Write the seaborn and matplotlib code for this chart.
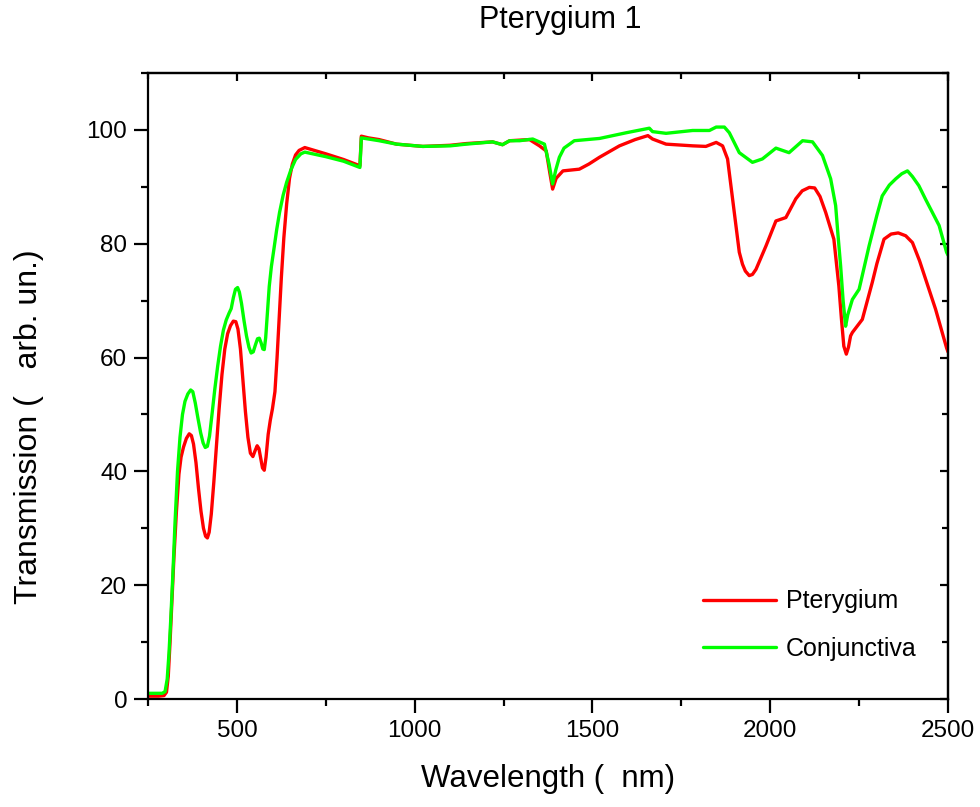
import numpy as np
import pandas as pd
import matplotlib
matplotlib.use("Agg")
import matplotlib.pyplot as plt
from matplotlib.ticker import MultipleLocator
import seaborn as sns

# ---------------- data ----------------
pter_x = [250, 280, 295, 302, 307, 312, 317, 323, 330, 337, 343, 350, 358, 366, 372,
          378, 385, 392, 399, 406, 412, 417, 422, 428, 435, 442, 450, 458, 466, 474,
          482, 490, 497, 503, 510, 517, 524, 531, 538, 545, 551, 557, 562, 567, 572,
          577, 582, 588, 594, 600, 607, 613, 619, 625, 632, 640, 648, 656, 665, 675,
          691, 750, 800, 846, 850, 870, 900, 949, 1023, 1100, 1145, 1219, 1247, 1267, 1323,
          1351, 1370, 1380, 1388, 1398, 1417, 1463, 1490, 1520, 1576, 1620, 1656, 1669, 1707,
          1782, 1819, 1848, 1866, 1880, 1894, 1913, 1922, 1930, 1941, 1950, 1960, 1988, 2016,
          2044, 2072, 2090, 2110, 2125, 2140, 2156, 2179, 2193, 2200, 2207, 2214, 2220, 2226,
          2231, 2259, 2287, 2300, 2320, 2340, 2360, 2381, 2400, 2420, 2437, 2465, 2496, 2500]
pter_y = [0.5, 0.5, 0.6, 1.2, 4, 10, 17, 25, 33, 39.5, 42.5, 44.3, 45.8, 46.6, 46.3,
          44.8, 41.5, 37, 33, 30, 28.6, 28.3, 29.3, 32.5, 38, 44, 51, 57, 61.5, 64.2,
          65.6, 66.4, 66.3, 65, 61.5, 56, 50.5, 46, 43.2, 42.6, 43.6, 44.5, 44, 42.3, 40.6,
          40.2, 42.5, 46.5, 49, 51, 54, 60, 67, 74, 81, 87, 91.5, 94, 95.6, 96.4,
          96.9, 95.8, 94.8, 93.7, 98.9, 98.6, 98.3, 97.5, 97.1, 97.3, 97.6, 97.9, 97.4, 98.1, 98.3,
          97.2, 96.3, 92.5, 89.6, 91.5, 92.8, 93.1, 94.0, 95.2, 97.2, 98.3, 99.0, 98.4, 97.5,
          97.2, 97.1, 97.8, 97.2, 94.9, 87.9, 78.5, 76.4, 75.2, 74.4, 74.6, 75.5, 79.6, 84.0,
          84.6, 87.9, 89.3, 89.9, 89.8, 88.3, 85.5, 80.8, 72.6, 67.0, 62.0, 60.6, 61.8, 63.8,
          64.4, 66.7, 73.2, 76.5, 80.8, 81.7, 81.9, 81.4, 80.2, 77.0, 73.8, 68.5, 61.7, 61.0]

conj_x = [250, 290, 298, 304, 309, 314, 320, 326, 333, 340, 347, 354, 362, 370, 376,
          383, 390, 398, 405, 411, 417, 423, 430, 438, 446, 454, 462, 470, 478, 484,
          490, 496, 502, 507, 513, 520, 527, 534, 540, 546, 552, 558, 563, 568, 573,
          577, 581, 586, 591, 597, 604, 612, 620, 630, 640, 652, 665, 680, 691, 750,
          800, 846, 850, 870, 900, 949, 1023, 1100, 1145, 1219, 1247, 1267, 1295, 1332, 1365,
          1378, 1388, 1397, 1407, 1420, 1449, 1520, 1595, 1660, 1669, 1707, 1782, 1829, 1848,
          1871, 1885, 1913, 1950, 1978, 2016, 2053, 2091, 2119, 2147, 2170, 2184, 2190, 2198,
          2205, 2212, 2218, 2231, 2250, 2278, 2300, 2315, 2335, 2353, 2370, 2386, 2400, 2418,
          2437, 2456, 2475, 2496, 2500]
conj_y = [1.0, 1.0, 1.3, 3.5, 8, 14, 22, 31, 40, 46, 50, 52.3, 53.6, 54.3, 54,
          52, 49.5, 46.8, 45, 44.2, 44.4, 46.2, 50, 54.5, 58.5, 62, 64.8, 66.6, 67.8, 68.6,
          70.5, 72, 72.3, 71.5, 69.5, 66.5, 63.8, 61.8, 60.8, 61, 62.2, 63.3, 63.4, 62.6, 61.5,
          61.4, 63.5, 68, 72.5, 76, 79, 82.5, 85.5, 88.5, 90.8, 93, 94.8, 95.8, 96.1, 95.3,
          94.5, 93.4, 98.6, 98.4, 98.1, 97.5, 97.1, 97.2, 97.5, 97.9, 97.4, 98.1, 98.1, 98.4, 97.5,
          94.0, 90.5, 93.0, 95.2, 96.8, 98.1, 98.5, 99.5, 100.3, 99.7, 99.4, 99.9, 99.9, 100.5,
          100.5, 99.5, 96.0, 94.3, 94.9, 96.8, 96.0, 98.1, 97.9, 95.5, 91.4, 86.7, 82.0, 76.1,
          70.0, 65.5, 67.5, 70.2, 72.0, 79.6, 85.0, 88.4, 90.3, 91.4, 92.3, 92.8, 91.8, 90.2,
          87.8, 85.5, 83.2, 78.5, 78.0]

series_names = ["Pterygium", "Conjunctiva"]
series_colors = ["#ff0000", "#00ff00"]
x_ticks = [500, 1000, 1500, 2000, 2500]
y_ticks = [0, 20, 40, 60, 80, 100]

df = pd.concat([
    pd.DataFrame({"Wavelength": pter_x, "Transmission": pter_y, "Sample": series_names[0]}),
    pd.DataFrame({"Wavelength": conj_x, "Transmission": conj_y, "Sample": series_names[1]}),
], ignore_index=True)

# ---------------- style ----------------
sns.set_style("ticks")
plt.rcParams["font.family"] = ["Liberation Sans", "DejaVu Sans"]
for k in ["text.color", "axes.labelcolor", "xtick.color", "ytick.color", "axes.edgecolor"]:
    plt.rcParams[k] = "black"

fig = plt.figure(figsize=(9.8, 8.07), dpi=100)
ax = fig.add_axes([148 / 980, 108 / 807, 800 / 980, 626 / 807])

sns.lineplot(data=df, x="Wavelength", y="Transmission", hue="Sample",
             hue_order=series_names, palette=series_colors, estimator=None,
             linewidth=2.4, ax=ax)

ax.set_xlim(250, 2500)
ax.set_ylim(0, 110)
ax.set_xticks(x_ticks)
ax.set_yticks(y_ticks)
ax.xaxis.set_minor_locator(MultipleLocator(250))
ax.yaxis.set_minor_locator(MultipleLocator(10))

for s in ax.spines.values():
    s.set_visible(True)
    s.set_linewidth(1.6)
    s.set_color("black")

ax.tick_params(axis="both", which="major", direction="out", length=10, width=1.6,
               labelsize=17.5, colors="black", pad=5)
ax.tick_params(axis="both", which="minor", direction="out", length=5, width=1.6)
ax.tick_params(axis="x", which="both", top=False)
ax.tick_params(axis="y", which="both", right=False)

# top/right ticks point inward
sec_x = ax.secondary_xaxis("top")
sec_x.set_xticks(x_ticks)
sec_x.xaxis.set_minor_locator(MultipleLocator(250))
sec_x.tick_params(which="major", direction="in", length=6, width=1.6, labeltop=False)
sec_x.tick_params(which="minor", direction="in", length=4, width=1.6)
sec_y = ax.secondary_yaxis("right")
sec_y.set_yticks(y_ticks)
sec_y.yaxis.set_minor_locator(MultipleLocator(10))
sec_y.tick_params(which="major", direction="in", length=6, width=1.6, labelright=False)
sec_y.tick_params(which="minor", direction="in", length=4, width=1.6)
for s in list(sec_x.spines.values()) + list(sec_y.spines.values()):
    s.set_linewidth(1.6)

ax.set_xlabel("Wavelength (  nm)", fontsize=22.5)
ax.set_ylabel("Transmission (   arb. un.)", fontsize=23)
ax.xaxis.set_label_coords(0.5, -0.104)
ax.yaxis.label.set_verticalalignment("center")
ax.yaxis.set_label_coords(-0.149, 0.435)

fig.text(560 / 980, 1 - 28 / 807, "Pterygium 1", fontsize=22, ha="center", va="baseline")

leg = ax.legend(loc="upper left", bbox_to_anchor=(0.694, 0.175), frameon=False,
                fontsize=18, handlelength=2.9, handletextpad=0.4, labelspacing=0.95,
                borderpad=0, borderaxespad=0, title=None)
for line in leg.get_lines():
    line.set_linewidth(2.4)

fig.savefig("out.png", dpi=100, facecolor="white")
